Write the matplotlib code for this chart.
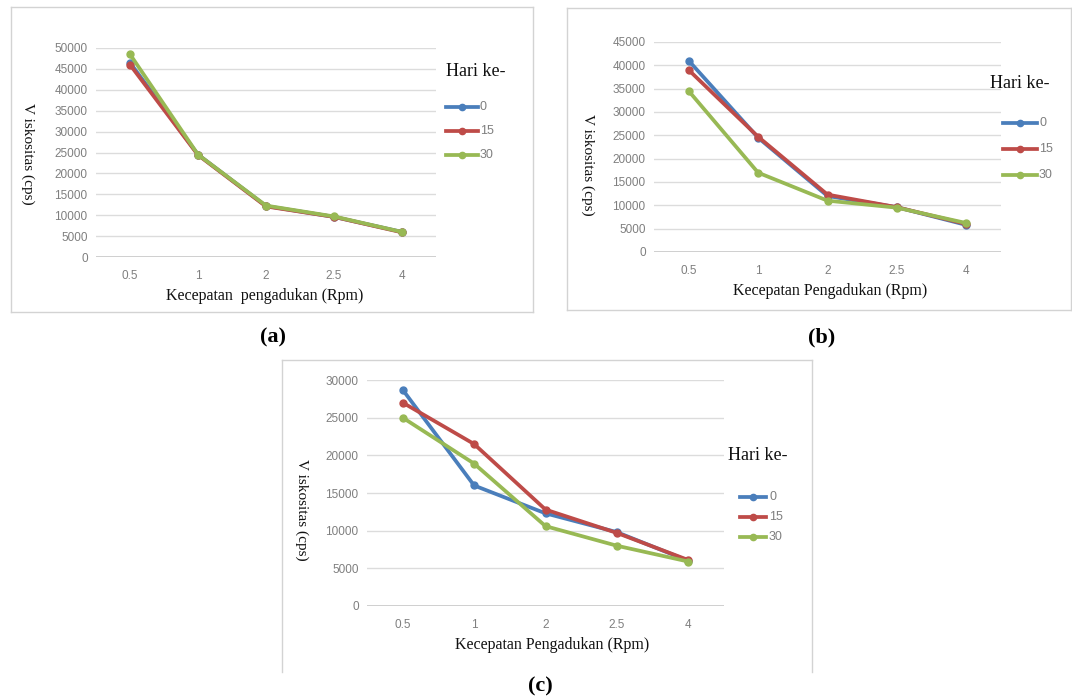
import matplotlib
matplotlib.use("Agg")
import matplotlib.pyplot as plt
from matplotlib.patches import Rectangle
from matplotlib.lines import Line2D

W, H = 1072, 700

categories = ["0.5", "1", "2", "2.5", "4"]
series_names = ["0", "15", "30"]
colors = ["#4a7ebb", "#be4b48", "#98b954"]

# Panel (a)
a_day0 = [46500, 24500, 12200, 9600, 6000]
a_day15 = [46000, 24400, 12100, 9600, 5900]
a_day30 = [48500, 24500, 12300, 9700, 6000]
a_yticks = [0, 5000, 10000, 15000, 20000, 25000, 30000, 35000, 40000, 45000, 50000]

# Panel (b)
b_day0 = [41000, 24500, 12000, 9600, 5800]
b_day15 = [39000, 24700, 12300, 9600, 6000]
b_day30 = [34500, 17000, 11000, 9500, 6200]
b_yticks = [0, 5000, 10000, 15000, 20000, 25000, 30000, 35000, 40000, 45000]

# Panel (c)
c_day0 = [28700, 16000, 12300, 9800, 6000]
c_day15 = [27000, 21500, 12800, 9700, 6100]
c_day30 = [25000, 18900, 10600, 8000, 5900]
c_yticks = [0, 5000, 10000, 15000, 20000, 25000, 30000]

xlabels = ["Kecepatan  pengadukan (Rpm)", "Kecepatan Pengadukan (Rpm)", "Kecepatan Pengadukan (Rpm)"]
ylabel = "V iskositas (cps)"
legend_title = "Hari ke-"
panel_labels = ["(a)", "(b)", "(c)"]

fig = plt.figure(figsize=(W / 100, H / 100), dpi=100)
fig.patch.set_facecolor("white")

SERIF = "Liberation Serif"
SANS = "Liberation Sans"


def fx(x):
    return x / W


def fy(y):
    return 1 - y / H


def frame(x0, y0, x1, y1, sides="ltrb"):
    pts = {"l": ([x0, x0], [y0, y1]), "r": ([x1, x1], [y0, y1]),
           "t": ([x0, x1], [y0, y0]), "b": ([x0, x1], [y1, y1])}
    for s in sides:
        xs, ys = pts[s]
        fig.add_artist(Line2D([fx(v) for v in xs], [fy(v) for v in ys],
                              color="#d3d3d3", lw=1.0, transform=fig.transFigure,
                              zorder=0))


def panel(ax_px, data, yticks, xlabel, ylab_px, xlab_px, leg_px, leg_dy):
    left, right, top, bottom = ax_px
    ax = fig.add_axes([fx(left), fy(bottom), fx(right - left), (bottom - top) / H])
    ax.set_facecolor("none")
    for s, (vals, c) in enumerate(zip(data, colors)):
        ax.plot(range(len(categories)), vals, color=c, lw=2.7, marker="o",
                ms=5, zorder=3 + s, solid_capstyle="round")
    ax.set_xlim(-0.5, len(categories) - 0.5)
    ax.set_ylim(yticks[0], yticks[-1])
    ax.set_yticks(yticks)
    ax.set_yticklabels([str(t) for t in yticks])
    ax.set_xticks(range(len(categories)))
    ax.set_xticklabels(categories)
    ax.tick_params(axis="both", length=0, labelsize=8.5, labelcolor="#7f7f7f")
    ax.tick_params(axis="y", pad=6)
    ax.tick_params(axis="x", pad=9)
    for lab in ax.get_xticklabels() + ax.get_yticklabels():
        lab.set_fontfamily(SANS)
    for sp in ax.spines.values():
        sp.set_visible(False)
    ax.grid(axis="y", color="#dcdcdc", lw=1.0, zorder=0)
    ax.axhline(yticks[0], color="#c8c8c8", lw=1.2, zorder=1)
    ax.set_axisbelow(True)
    # axis labels
    fig.text(fx(ylab_px[0]), fy(ylab_px[1]), ylabel, rotation=270, ha="center",
             va="center", fontsize=11, family=SERIF, color="#111111")
    fig.text(fx(xlab_px[0]), fy(xlab_px[1]), xlabel, ha="center", va="center",
             fontsize=11.5, family=SERIF, color="#111111")
    # legend
    lx, ly, l0, l1, tx = leg_px
    fig.text(fx(lx), fy(ly), legend_title, ha="left", va="center",
             fontsize=13, family=SERIF, color="#111111")
    for i, (name, c) in enumerate(zip(series_names, colors)):
        yy = fy(ly + leg_dy[0] + i * leg_dy[1])
        fig.add_artist(Line2D([fx(l0), fx(l1)], [yy, yy], color=c, lw=2.7,
                              transform=fig.transFigure))
        fig.add_artist(Line2D([fx((l0 + l1) / 2)], [yy], color=c, marker="o",
                              ms=4.5, transform=fig.transFigure))
        fig.text(fx(tx), yy, name, ha="left", va="center", fontsize=9,
                 family=SANS, color="#7f7f7f")
    return ax


# frames
frame(11, 7, 533, 312)
frame(567, 8, 1071, 310)
frame(282, 360, 812, 672, sides="ltr")

panel((96, 436, 48, 257), [a_day0, a_day15, a_day30], a_yticks, xlabels[0],
      (28, 154), (265, 296), (446, 72, 446, 478, 480), (35, 24))
panel((654, 1001, 42, 252), [b_day0, b_day15, b_day30], b_yticks, xlabels[1],
      (588, 165), (830, 291), (990, 84, 1003, 1037, 1039), (39, 26))
panel((367, 724, 380, 606), [c_day0, c_day15, c_day30], c_yticks, xlabels[2],
      (302, 510), (552, 645), (728, 455, 740, 766, 769), (42, 20))

# panel labels
for lab, (x, y) in zip(panel_labels, [(273, 337), (822, 337), (540, 686)]):
    fig.text(fx(x), fy(y), lab, ha="center", va="center", fontsize=16,
             fontweight="bold", family=SERIF, color="black")

fig.savefig("out.png", dpi=100, facecolor="white")
